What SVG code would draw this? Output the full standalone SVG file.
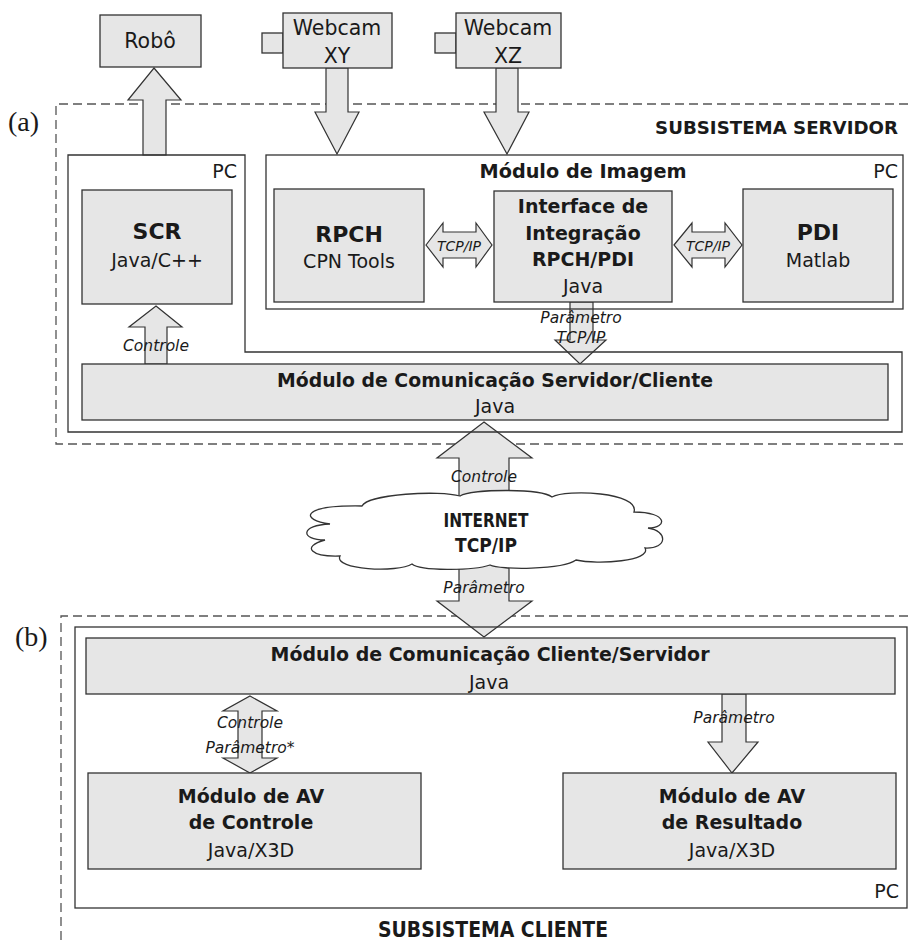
<svg xmlns="http://www.w3.org/2000/svg" width="908" height="943" viewBox="0 0 908 943">
<style>
.box{fill:#e6e6e6;stroke:#333;stroke-width:1.3}
.frame{fill:none;stroke:#333;stroke-width:1.3}
.dash{fill:none;stroke:#555;stroke-width:1.3;stroke-dasharray:9 5}
.arrow{fill:#e6e6e6;stroke:#333;stroke-width:1.2;stroke-linejoin:miter}
.cloud{fill:#fff;stroke:#333;stroke-width:1.3}
.t{font-family:"DejaVu Sans","Liberation Sans",sans-serif;fill:#1a1a1a;text-anchor:middle}
.b{font-weight:bold;font-size:19px}
.r{font-size:19px}
.i{font-style:italic;font-size:15.5px}
.e{text-anchor:end}
.s{font-family:"Liberation Serif",serif;font-size:28px;fill:#1a1a1a}
</style>
<rect width="908" height="943" fill="#fff"/>

<g id="frames">
<path class="dash" d="M908,104 H56 V444 H908"/>
<path class="dash" d="M908,616 H61 V943"/>
<text class="s" x="8" y="131">(a)</text>
<text class="s" x="15" y="646">(b)</text>
<text class="t b e" x="898" y="134" style="font-size:18.2px">SUBSISTEMA SERVIDOR</text>
<text class="t b" x="493" y="937" style="font-size:22px" textLength="230" lengthAdjust="spacingAndGlyphs">SUBSISTEMA CLIENTE</text>
</g>

<g id="connectors">
<polygon class="arrow" points="154,68 181,100 166,100 166,155 143,155 143,100 128,100"/>
<polygon class="arrow" points="326,68 348,68 348,112 359,112 337,154 315,112 326,112"/>
<polygon class="arrow" points="496,68 518,68 518,112 529,112 507,154 484,112 496,112"/>
<polygon class="arrow" points="426,245 443,223 443,232 476,232 476,223 492,245 476,267 476,258 443,258 443,267"/>
<polygon class="arrow" points="674,245 692,223 692,232 725,232 725,223 742,245 725,267 725,258 692,258 692,267"/>
<polygon class="arrow" points="570,302 593,302 593,340 606,340 580,364 555,340 570,340"/>
<polygon class="arrow" points="156,306 182,327 167,327 167,364 145,364 145,327 129,327"/>
<polygon class="arrow" points="484,422 532,458 509,458 509,601 532,601 484,637 437,601 459,601 459,458 437,458"/>
<polygon class="arrow" points="250,696 277,711 262,711 262,758 277,758 250,773 223,758 238,758 238,711 223,711"/>
<polygon class="arrow" points="722,694 746,694 746,742 758,742 732,773 708,742 722,742"/>
</g>

<g id="robo">
<rect class="box" x="100" y="15" width="101" height="52"/>
<text class="t r" x="150" y="48" style="font-size:20.5px">Robô</text>
</g>
<g id="webcam-xy">
<rect class="box" x="262" y="33" width="21" height="20"/>
<rect class="box" x="283" y="13" width="109" height="55"/>
<text class="t r" x="337" y="35" style="font-size:20.5px">Webcam</text>
<text class="t r" x="337" y="63" style="font-size:20.5px">XY</text>
</g>
<g id="webcam-xz">
<rect class="box" x="435" y="33" width="21" height="20"/>
<rect class="box" x="456" y="13" width="105" height="55"/>
<text class="t r" x="508" y="35" style="font-size:20.5px">Webcam</text>
<text class="t r" x="508" y="63" style="font-size:20.5px">XZ</text>
</g>

<g id="pc-servidor">
<path class="frame" d="M68,155 H245 V352 H902 V432 H68 Z"/>
<text class="t r e" x="237" y="178">PC</text>
</g>
<g id="modulo-imagem">
<rect class="frame" x="266" y="155" width="637" height="154"/>
<text class="t b" x="583" y="178" textLength="207" lengthAdjust="spacingAndGlyphs">Módulo de Imagem</text>
<text class="t r e" x="898" y="178">PC</text>
</g>
<g id="scr">
<rect class="box" x="82" y="190" width="150" height="114"/>
<text class="t b" x="157" y="239" style="font-size:22px">SCR</text>
<text class="t r" x="157" y="267">Java/C++</text>
</g>
<g id="rpch">
<rect class="box" x="274" y="189" width="150" height="113"/>
<text class="t b" x="349" y="242" style="font-size:22px">RPCH</text>
<text class="t r" x="349" y="268">CPN Tools</text>
</g>
<g id="interface">
<rect class="box" x="494" y="191" width="178" height="111"/>
<text class="t b" x="583" y="213">Interface de</text>
<text class="t b" x="583" y="240">Integração</text>
<text class="t b" x="583" y="266">RPCH/PDI</text>
<text class="t r" x="583" y="293">Java</text>
</g>
<g id="pdi">
<rect class="box" x="743" y="189" width="150" height="113"/>
<text class="t b" x="818" y="240" style="font-size:22px">PDI</text>
<text class="t r" x="818" y="267">Matlab</text>
</g>
<g id="comunicacao-servidor">
<rect class="box" x="82" y="364" width="806" height="56"/>
<text class="t b" x="495" y="387" textLength="436" lengthAdjust="spacingAndGlyphs">Módulo de Comunicação Servidor/Cliente</text>
<text class="t r" x="495" y="413">Java</text>
</g>

<g id="internet">
<path class="cloud" d="M362,506 C368,494 440,490 460,496 C472,489 540,488 552,497 C566,489 640,492 634,512 C668,512 668,528 648,528 C668,531 668,549 645,548 C652,561 598,565 576,560 C562,570 500,570 490,565 C472,571 420,571 412,564 C398,573 333,570 340,556 C312,557 300,547 325,540 C300,540 300,525 330,524 C300,520 300,505 362,506 Z"/>
<text class="t b" x="486" y="527" style="font-size:20px" textLength="85" lengthAdjust="spacingAndGlyphs">INTERNET</text>
<text class="t b" x="486" y="552" style="font-size:20px" textLength="62" lengthAdjust="spacingAndGlyphs">TCP/IP</text>
</g>

<g id="pc-cliente">
<rect class="frame" x="75" y="627" width="832" height="281"/>
<text class="t r e" x="899" y="898">PC</text>
</g>
<g id="comunicacao-cliente">
<rect class="box" x="86" y="638" width="809" height="56"/>
<text class="t b" x="490" y="661" textLength="439" lengthAdjust="spacingAndGlyphs">Módulo de Comunicação Cliente/Servidor</text>
<text class="t r" x="489" y="689">Java</text>
</g>
<g id="av-controle">
<rect class="box" x="88" y="773" width="333" height="96"/>
<text class="t b" x="251" y="803">Módulo de AV</text>
<text class="t b" x="251" y="829">de Controle</text>
<text class="t r" x="251" y="857">Java/X3D</text>
</g>
<g id="av-resultado">
<rect class="box" x="563" y="773" width="333" height="96"/>
<text class="t b" x="732" y="803">Módulo de AV</text>
<text class="t b" x="732" y="829">de Resultado</text>
<text class="t r" x="732" y="857">Java/X3D</text>
</g>

<g id="labels">
<text class="t i" x="156" y="351">Controle</text>
<text class="t i" x="459" y="251" style="font-size:14px">TCP/IP</text>
<text class="t i" x="708" y="251" style="font-size:14px">TCP/IP</text>
<text class="t i" x="581" y="323">Parâmetro</text>
<text class="t i" x="581" y="343">TCP/IP</text>
<text class="t i" x="484" y="482">Controle</text>
<text class="t i" x="484" y="593">Parâmetro</text>
<text class="t i" x="250" y="728">Controle</text>
<text class="t i" x="250" y="753">Parâmetro*</text>
<text class="t i" x="734" y="723">Parâmetro</text>
</g>
</svg>
